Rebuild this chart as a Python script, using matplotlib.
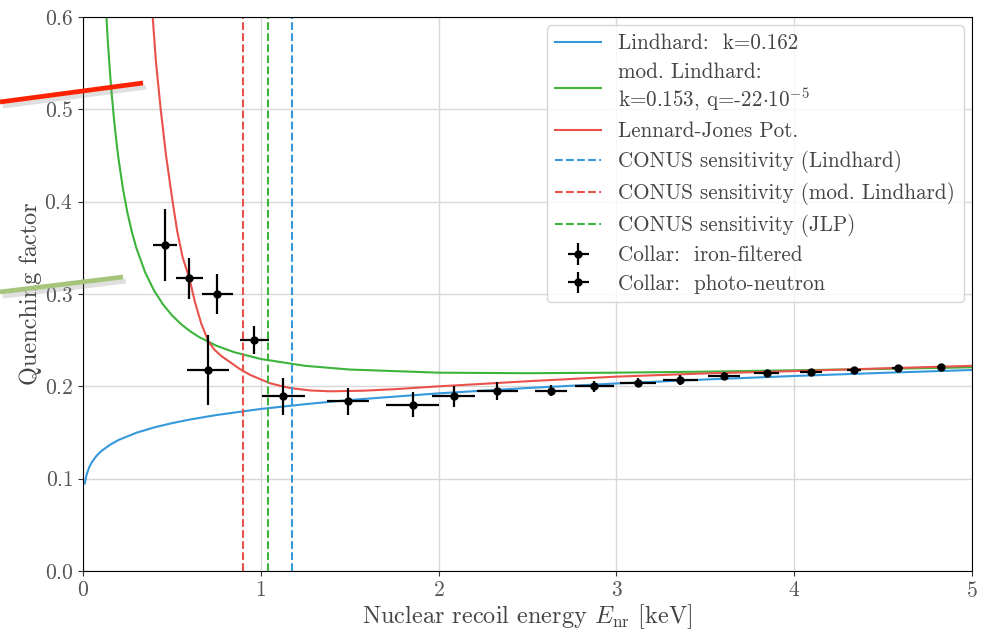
import numpy as np
import matplotlib
matplotlib.use("Agg")
import matplotlib.pyplot as plt
import matplotlib.patheffects as pe
from matplotlib.lines import Line2D

plt.rcParams["font.family"] = "serif"
plt.rcParams["font.serif"] = ["cmr10"]
plt.rcParams["mathtext.fontset"] = "cm"
plt.rcParams["axes.formatter.use_mathtext"] = True

# Lindhard, k = 0.162
lind_E = [0.01, 0.02, 0.035, 0.05, 0.075, 0.1, 0.15, 0.2, 0.3, 0.4, 0.5, 0.6, 0.75,
          1.0, 1.25, 1.5, 2.0, 2.5, 3.0, 3.5, 4.0, 4.5, 5.0]
lind_Q = [0.0949, 0.1042, 0.1124, 0.1179, 0.1245, 0.1294, 0.1365, 0.1419, 0.1497,
          0.1555, 0.1601, 0.1640, 0.1689, 0.1755, 0.1807, 0.1852, 0.1924, 0.1982,
          0.2031, 0.2074, 0.2112, 0.2146, 0.2177]

# modified Lindhard, k = 0.153, q = -22e-5
mod_E = [0.13, 0.14, 0.15, 0.16, 0.175, 0.19, 0.2, 0.225, 0.25, 0.275, 0.3, 0.35,
         0.4, 0.45, 0.5, 0.55, 0.6, 0.65, 0.75, 0.85, 1.0, 1.25, 1.5, 2.0, 2.5,
         3.0, 3.5, 4.0, 4.5, 5.0]
mod_Q = [0.606, 0.5726, 0.5445, 0.5198, 0.488, 0.4615, 0.4461, 0.4136, 0.3879,
         0.3671, 0.3499, 0.3232, 0.3036, 0.2887, 0.277, 0.2676, 0.26, 0.2537,
         0.244, 0.237, 0.2296, 0.2222, 0.2182, 0.2148, 0.2142, 0.2148, 0.2159,
         0.2174, 0.2189, 0.2206]

# Lennard-Jones potential
lj_E = [0.392, 0.41, 0.437, 0.467, 0.504, 0.53, 0.56, 0.598, 0.63, 0.665, 0.705,
        0.74, 0.78, 0.825, 0.88, 0.939, 1.0, 1.05, 1.11, 1.17, 1.28, 1.39, 1.58,
        1.76, 2.0, 2.23, 2.5, 3.0, 3.5, 4.0, 4.5, 5.0]
lj_Q = [0.600, 0.552, 0.500, 0.450, 0.400, 0.368, 0.340, 0.317, 0.291, 0.268,
        0.2487, 0.2395, 0.2325, 0.2265, 0.219, 0.2125, 0.2075, 0.2035, 0.2005,
        0.198, 0.1955, 0.1946, 0.1953, 0.197, 0.200, 0.2025, 0.2055, 0.2105,
        0.2140, 0.2165, 0.2195, 0.2222]

# CONUS sensitivity thresholds [keV]
sens_lindhard = 1.175
sens_mod = 0.898
sens_jlp = 1.042

# Collar data
iron_E = [0.461, 0.598, 0.756, 0.705, 0.964, 1.127]
iron_Q = [0.353, 0.317, 0.300, 0.218, 0.250, 0.189]
iron_xerr = [0.065, 0.077, 0.087, 0.118, 0.083, 0.12]
iron_yerr = [0.039, 0.022, 0.022, 0.038, 0.015, 0.020]

photo_E = [1.489, 1.854, 2.085, 2.331, 2.630, 2.876, 3.122, 3.360, 3.606, 3.846,
           4.094, 4.335, 4.581, 4.823]
photo_Q = [0.1837, 0.180, 0.189, 0.195, 0.195, 0.200, 0.2038, 0.2068, 0.2114,
           0.214, 0.2152, 0.2174, 0.2197, 0.2212]
photo_xerr = [0.117, 0.15, 0.12, 0.116, 0.09, 0.11, 0.1, 0.1, 0.09, 0.07, 0.06,
              0.04, 0.03, 0.02]
photo_yerr = [0.0148, 0.0135, 0.011, 0.010, 0.006, 0.006, 0.005, 0.005, 0.004,
              0.003, 0.003, 0.002, 0.002, 0.002]

c_blue = "#3498db"
c_green = "#3cb43c"
c_red = "#e8524a"

fig = plt.figure(figsize=(9.85, 6.33), dpi=100)
ax = fig.add_axes([83 / 985, 1 - 571 / 633, (972 - 83) / 985, (571 - 17) / 633])

ax.plot(lind_E, lind_Q, color=c_blue, lw=1.5, label="Lindhard:  k=0.162")
ax.plot(mod_E, mod_Q, color=c_green, lw=1.5,
        label="mod. Lindhard:\nk=0.153, q=-22$\\cdot$10$^{-5}$")
ax.plot(lj_E, lj_Q, color=c_red, lw=1.5, label="Lennard-Jones Pot.")

ax.axvline(sens_lindhard, color=c_blue, ls="--", lw=1.5,
           label="CONUS sensitivity (Lindhard)")
ax.axvline(sens_mod, color=c_red, ls="--", lw=1.5,
           label="CONUS sensitivity (mod. Lindhard)")
ax.axvline(sens_jlp, color=c_green, ls="--", lw=1.5,
           label="CONUS sensitivity (JLP)")

ax.errorbar(iron_E, iron_Q, xerr=iron_xerr, yerr=iron_yerr, fmt="o", color="black",
            ms=5, elinewidth=1.6, label="Collar:  iron-filtered")
ax.errorbar(photo_E, photo_Q, xerr=photo_xerr, yerr=photo_yerr, fmt="o", color="black",
            ms=5, elinewidth=1.6, label="Collar:  photo-neutron")

ax.set_xlim(0, 5)
ax.set_ylim(0, 0.6)
ax.set_xticks(range(6))
ax.set_yticks(np.arange(0, 0.61, 0.1))
ax.tick_params(labelsize=15.5, colors="#333333", labelcolor="#555555")
ax.grid(True, color="#d8d8d8", lw=1.0)
ax.set_axisbelow(True)
ax.set_xlabel(r"Nuclear recoil energy $E_{\rm nr}$ [keV]", fontsize=17.5, color="#444444",
              labelpad=1)
ax.set_ylabel("Quenching factor", fontsize=17.5, color="#444444", labelpad=2)

ax.legend(loc="upper right", fontsize=15.2, handlelength=2.2, framealpha=0.8,
          labelcolor="#444444", borderaxespad=0.4, labelspacing=0.42)

# highlight strokes at the left edge
shadow = [pe.SimpleLineShadow(offset=(2, -3), alpha=0.25, shadow_color="gray"),
          pe.Normal()]
fig.add_artist(Line2D([0 / 985, 143 / 985], [1 - 102 / 633, 1 - 83 / 633],
                      color="#ff2200", lw=3.4, solid_capstyle="butt",
                      path_effects=shadow, zorder=10))
fig.add_artist(Line2D([0 / 985, 123 / 985], [1 - 292 / 633, 1 - 277 / 633],
                      color="#a6c47c", lw=3.4, solid_capstyle="butt",
                      path_effects=shadow, zorder=10))

fig.savefig("out.png", dpi=100)
